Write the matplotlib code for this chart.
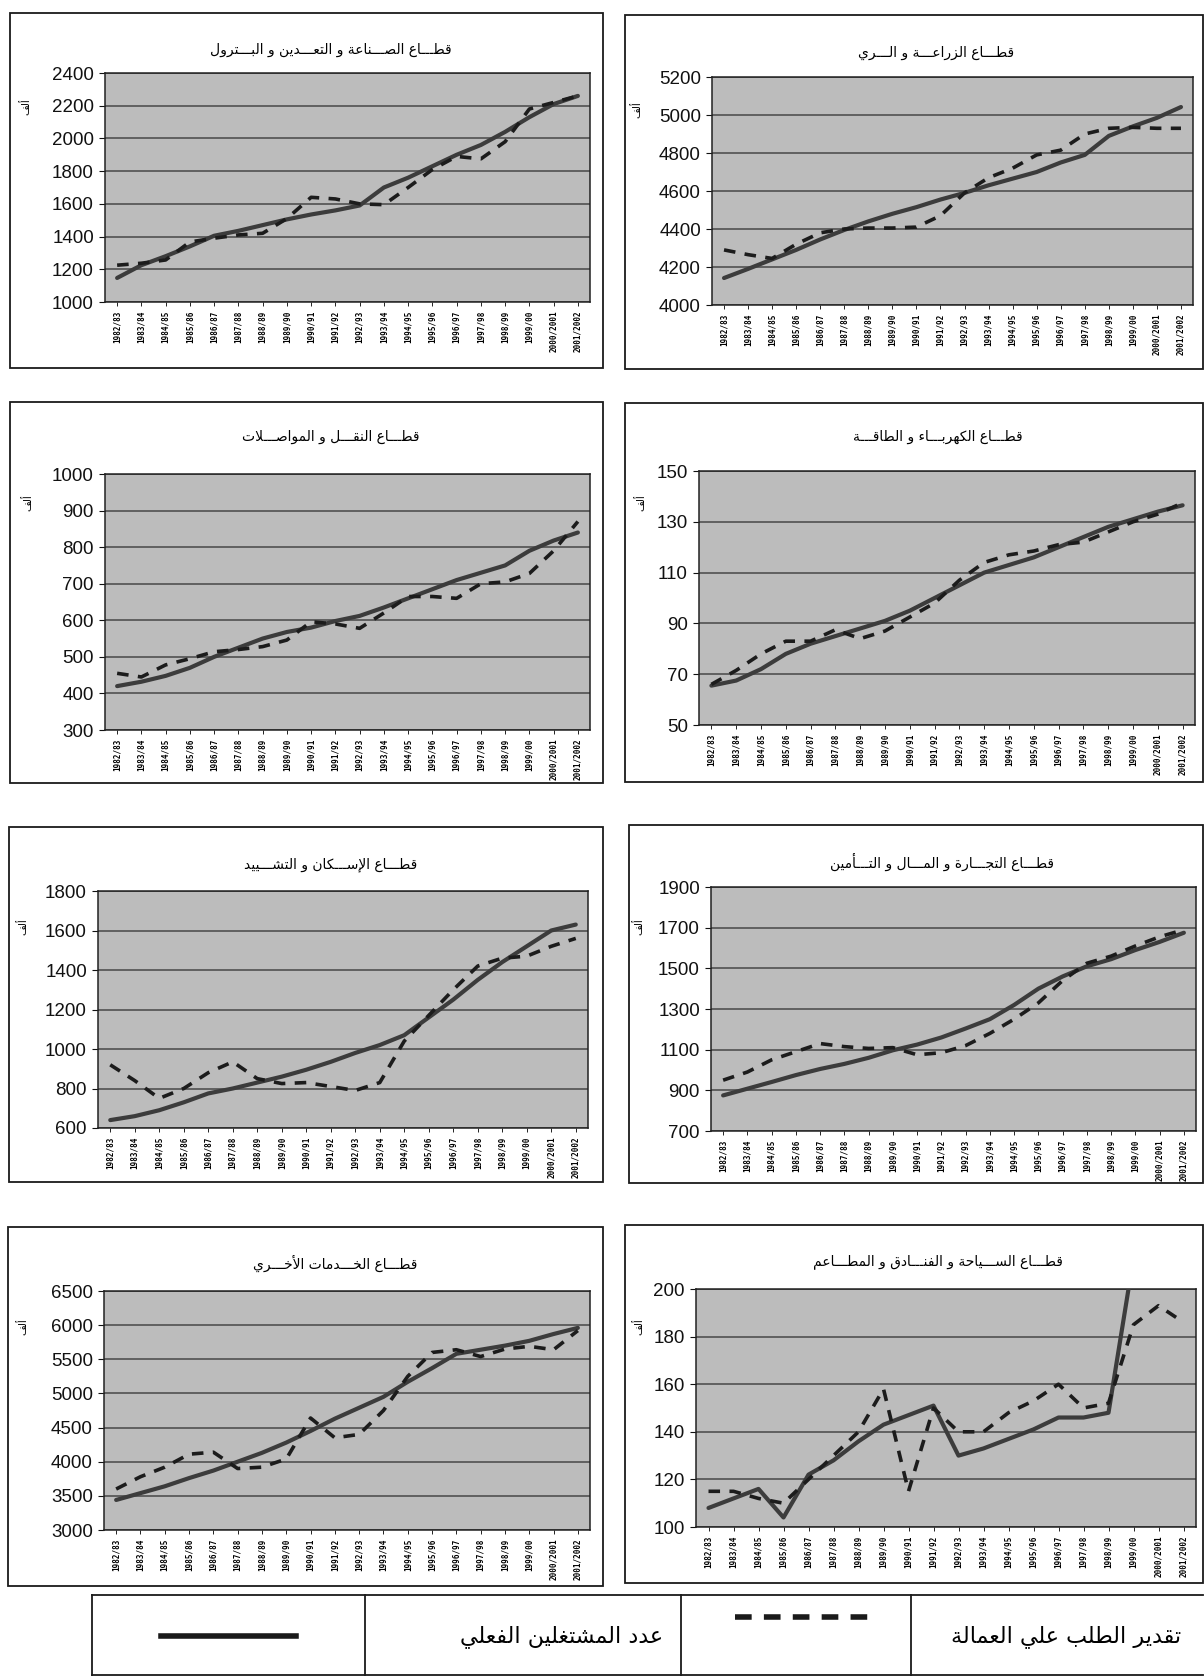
import matplotlib
matplotlib.use("Agg")
import matplotlib.pyplot as plt
from matplotlib.patches import Rectangle
from matplotlib.lines import Line2D
import numpy as np

# --- data -------------------------------------------------------------
years = [f"{y}/{str(y + 1)[2:]}" for y in range(1982, 2000)] + ["2000/2001", "2001/2002"]

titles = [
    "قطـــاع الصـــناعة و التعـــدين و البـــترول",
    "قطـــاع الزراعـــة و الـــري",
    "قطـــاع النقـــل و المواصـــلات",
    "قطـــاع الكهربـــاء و الطاقـــة",
    "قطـــاع الإســـكان و التشـــييد",
    "قطـــاع التجـــارة و المـــال و التـــأمين",
    "قطـــاع الخـــدمات الأخـــري",
    "قطـــاع الســـياحة و الفنـــادق و المطـــاعم",
]

# solid line (actual employed)
actual_industry = [1147, 1225, 1280, 1340, 1405, 1435, 1470, 1505, 1535, 1560,
                   1590, 1700, 1760, 1830, 1900, 1960, 2040, 2130, 2210, 2260]
actual_agri = [4142, 4190, 4240, 4290, 4345, 4395, 4440, 4480, 4515, 4555,
               4590, 4630, 4665, 4700, 4750, 4790, 4890, 4940, 4985, 5042]
actual_transport = [420, 432, 448, 470, 500, 525, 550, 568, 580, 598,
                    612, 635, 660, 685, 710, 730, 750, 790, 818, 840]
actual_power = [65.5, 67.5, 72, 78, 82, 85, 88, 91, 95, 100,
                105, 110, 113, 116, 120, 124, 128, 131, 134, 136.5]
actual_housing = [640, 660, 690, 730, 775, 800, 830, 860, 895, 935,
                  980, 1020, 1070, 1160, 1250, 1350, 1440, 1520, 1600, 1630]
actual_trade = [875, 908, 941, 975, 1005, 1030, 1060, 1097, 1125, 1160,
                1204, 1250, 1320, 1400, 1460, 1510, 1545, 1590, 1630, 1675]
actual_services = [3440, 3540, 3640, 3760, 3870, 4000, 4130, 4280, 4450, 4630,
                   4790, 4950, 5170, 5370, 5580, 5640, 5700, 5770, 5870, 5960]
actual_tourism = [108, 112, 116, 104, 122, 128, 136, 143, 147, 151,
                  130, 133, 137, 141, 146, 146, 148, 213, 220, 225]

# dashed line (labour demand estimate)
demand_industry = [1225, 1237, 1257, 1367, 1390, 1410, 1420, 1510, 1640, 1630,
                   1600, 1595, 1700, 1810, 1890, 1875, 1980, 2180, 2220, 2260]
demand_agri = [4290, 4265, 4245, 4320, 4380, 4400, 4405, 4405, 4410, 4470,
               4590, 4670, 4720, 4790, 4815, 4900, 4930, 4935, 4930, 4930]
demand_transport = [455, 445, 478, 495, 514, 520, 528, 546, 596, 590,
                    578, 620, 665, 665, 660, 700, 705, 728, 790, 870]
demand_power = [66, 71.5, 78, 83, 83, 87.5, 84, 87, 92.5, 98,
                107, 114, 117, 118.5, 121, 122, 126, 130, 133, 137.5]
demand_housing = [920, 840, 750, 800, 880, 935, 850, 825, 830, 810,
                  790, 830, 1040, 1170, 1300, 1420, 1460, 1470, 1520, 1560]
demand_trade = [950, 990, 1050, 1090, 1130, 1115, 1106, 1110, 1075, 1085,
                1120, 1180, 1250, 1330, 1440, 1525, 1560, 1610, 1655, 1690]
demand_services = [3600, 3780, 3920, 4110, 4140, 3900, 3920, 4040, 4640, 4350,
                   4400, 4750, 5250, 5600, 5640, 5540, 5650, 5690, 5640, 5920]
demand_tourism = [115, 115, 112, 110, 120, 130, 140, 158, 115, 150,
                  140, 140, 148, 153, 160, 150, 152, 185, 193, 186]

actual = [actual_industry, actual_agri, actual_transport, actual_power,
          actual_housing, actual_trade, actual_services, actual_tourism]
demand = [demand_industry, demand_agri, demand_transport, demand_power,
          demand_housing, demand_trade, demand_services, demand_tourism]

y_ranges = [(1000, 2400, 200), (4000, 5200, 200), (300, 1000, 100), (50, 150, 20),
            (600, 1800, 200), (700, 1900, 200), (3000, 6500, 500), (100, 200, 20)]

legend_estimate = "تقدير الطلب علي العمالة"
legend_actual = "عدد المشتغلين الفعلي"
unit_label = "ألف"

# --- simple arabic shaping (matplotlib does no joining / RTL) ---------
DUAL = {'ب': 0xFE8F, 'ت': 0xFE95, 'ث': 0xFE99, 'ج': 0xFE9D, 'ح': 0xFEA1, 'خ': 0xFEA5,
        'س': 0xFEB1, 'ش': 0xFEB5, 'ص': 0xFEB9, 'ض': 0xFEBD, 'ط': 0xFEC1, 'ظ': 0xFEC5,
        'ع': 0xFEC9, 'غ': 0xFECD, 'ف': 0xFED1, 'ق': 0xFED5, 'ك': 0xFED9, 'ل': 0xFEDD,
        'م': 0xFEE1, 'ن': 0xFEE5, 'ه': 0xFEE9, 'ي': 0xFEF1, 'ئ': 0xFE89}
RIGHT = {'ا': 0xFE8D, 'أ': 0xFE83, 'إ': 0xFE87, 'آ': 0xFE81, 'ة': 0xFE93, 'د': 0xFEA9,
         'ذ': 0xFEAB, 'ر': 0xFEAD, 'ز': 0xFEAF, 'و': 0xFEED, 'ى': 0xFEEF, 'ؤ': 0xFE85}
LAM_ALEF = {'ا': 0xFEFB, 'أ': 0xFEF7, 'إ': 0xFEF9, 'آ': 0xFEF5}
TATWEEL = 'ـ'


def joins_next(c):
    return c in DUAL or c == TATWEEL


def joins_prev(c):
    return c in DUAL or c in RIGHT or c == TATWEEL


def ar(s):
    out = []
    i = 0
    while i < len(s):
        c = s[i]
        prev = s[i - 1] if i > 0 else ''
        nxt = s[i + 1] if i + 1 < len(s) else ''
        jp = joins_next(prev) and joins_prev(c)
        if c == 'ل' and nxt in LAM_ALEF:
            out.append(chr(LAM_ALEF[nxt] + (1 if jp else 0)))
            i += 2
            continue
        jn = joins_next(c) and joins_prev(nxt)
        if c in DUAL:
            out.append(chr(DUAL[c] + (3 if jp and jn else 1 if jp else 2 if jn else 0)))
        elif c in RIGHT:
            out.append(chr(RIGHT[c] + (1 if jp else 0)))
        else:
            out.append(c)
        i += 1
    return ''.join(reversed(out))


# --- layout (pixels) --------------------------------------------------
W, H = 1204, 1676
fig = plt.figure(figsize=(W / 100, H / 100), dpi=100)

plots = [(105, 73, 590, 302), (712, 77, 1193, 305),
         (105, 474, 590, 730), (699, 471, 1195, 725),
         (98, 891, 588, 1128), (711, 887, 1196, 1131),
         (104, 1291, 590, 1530), (696, 1289, 1196, 1527)]
boxes = [(10, 13, 603, 368), (625, 15, 1203, 369),
         (10, 402, 603, 783), (625, 403, 1203, 782),
         (9, 827, 603, 1182), (629, 825, 1203, 1183),
         (8, 1227, 603, 1586), (625, 1225, 1203, 1583)]
title_pos = [(331, 50), (936, 53), (331, 437), (938, 437),
             (331, 865), (942, 862), (335, 1263), (938, 1262)]
unit_pos = [(26, 107), (637, 110), (28, 503), (641, 503),
            (23, 927), (639, 927), (23, 1327), (639, 1327)]

num_font = ['Liberation Sans', 'DejaVu Sans']


def fx(x):
    return x / W


def fy(y):
    return 1 - y / H


x = np.arange(len(years))

for k in range(8):
    l, t, r, b = plots[k]
    ax = fig.add_axes([fx(l), fy(b), (r - l) / W, (b - t) / H])
    ax.set_facecolor('#bcbcbc')
    lo, hi, step = y_ranges[k]
    ax.set_ylim(lo, hi)
    ax.set_yticks(np.arange(lo, hi + step / 2, step))
    ax.set_xlim(-0.5, len(years) - 0.5)
    ax.set_xticks(x)
    ax.set_xticklabels(years, rotation=90, fontsize=5.5, fontweight='bold',
                       family='DejaVu Sans Mono')
    ax.yaxis.grid(True, color='#474747', lw=1.1)
    ax.set_axisbelow(True)
    for lab in ax.get_yticklabels():
        lab.set_family(num_font)
        lab.set_fontsize(13.5)
    ax.tick_params(axis='y', length=4, width=0.8, pad=4, colors='#111111')
    ax.tick_params(axis='x', length=3, width=0.6, pad=3)
    for s in ax.spines.values():
        s.set_color('#222222')
        s.set_linewidth(1.1)
    ax.plot(x, actual[k], color='#3c3c3c', lw=3, solid_capstyle='round', zorder=3)
    ax.plot(x, demand[k], color='#1c1c1c', lw=2.6, dashes=(3.2, 2.6), zorder=4)

    bl, bt, br, bb = boxes[k]
    fig.add_artist(Rectangle((fx(bl), fy(bb)), (br - bl) / W, (bb - bt) / H,
                             fill=False, ec='#1a1a1a', lw=1.3,
                             transform=fig.transFigure))
    fig.text(fx(title_pos[k][0]), fy(title_pos[k][1]), ar(titles[k]),
             ha='center', va='center', fontsize=10, family='DejaVu Sans')
    fig.text(fx(unit_pos[k][0]), fy(unit_pos[k][1]), ar(unit_label),
             ha='center', va='center', fontsize=7.5, rotation=90, family='DejaVu Sans')

# --- legend table -----------------------------------------------------
top = 1595
fig.add_artist(Line2D([fx(92), fx(1203)], [fy(top), fy(top)], color='#1a1a1a', lw=1.3,
                      transform=fig.transFigure))
fig.add_artist(Line2D([fx(92), fx(1203)], [fy(1675), fy(1675)], color='#1a1a1a', lw=1.3,
                      transform=fig.transFigure))
for xv in [92, 365, 681, 911]:
    fig.add_artist(Line2D([fx(xv), fx(xv)], [fy(top), fy(1676)], color='#1a1a1a', lw=1.3,
                          transform=fig.transFigure))
fig.add_artist(Line2D([fx(735), fx(873)], [fy(1617), fy(1617)], color='#1a1a1a', lw=4,
                      dashes=(3, 2.2), transform=fig.transFigure))
fig.add_artist(Line2D([fx(161), fx(296)], [fy(1636), fy(1636)], color='#1a1a1a', lw=4,
                      transform=fig.transFigure))
fig.text(fx(1066), fy(1637), ar(legend_estimate), ha='center', va='center',
         fontsize=16, family='DejaVu Sans')
fig.text(fx(562), fy(1637), ar(legend_actual), ha='center', va='center',
         fontsize=16, family='DejaVu Sans')

fig.savefig('out.png', dpi=100, facecolor='white')
